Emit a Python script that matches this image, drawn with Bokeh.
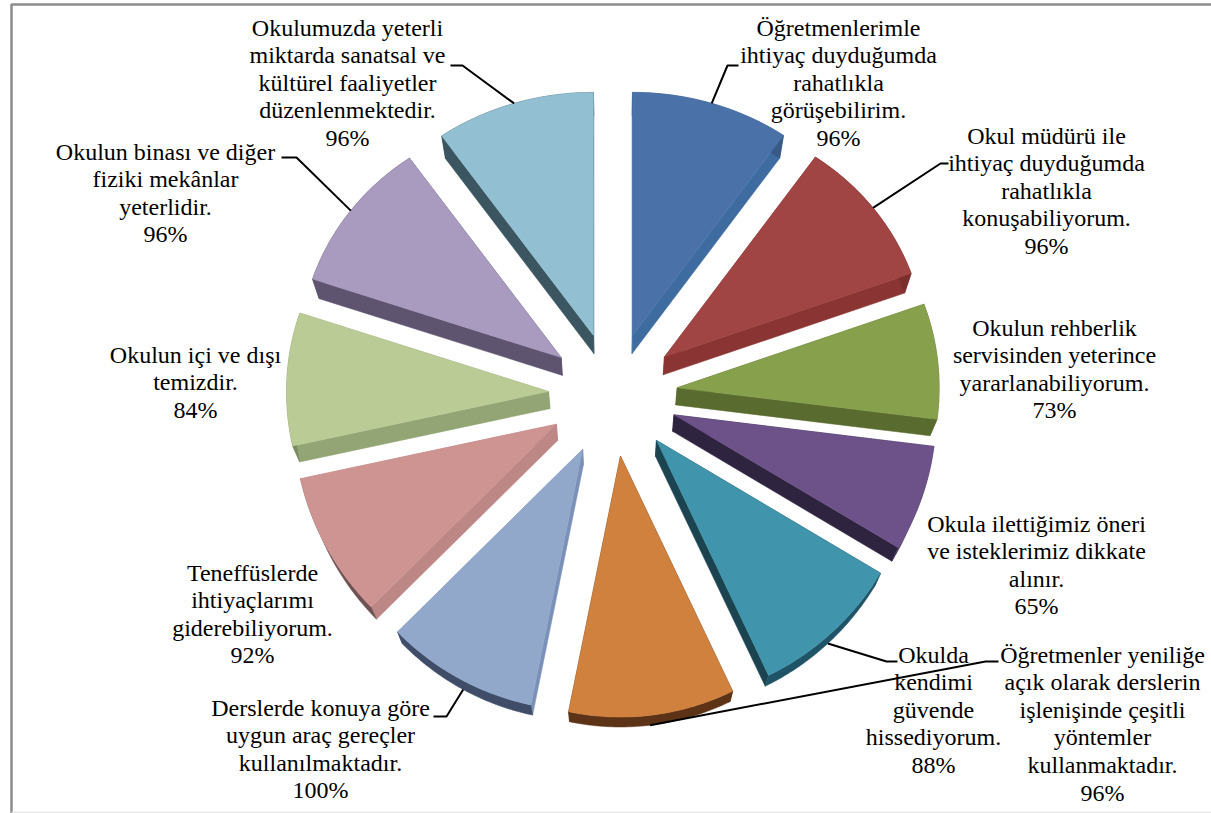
import numpy as np
from bokeh.plotting import figure
from bokeh.embed import file_html
from bokeh.resources import INLINE
from bokeh.core.properties import value

categories = [
    ["Öğretmenlerimle", "ihtiyaç duyduğumda", "rahatlıkla", "görüşebilirim."],
    ["Okul müdürü ile", "ihtiyaç duyduğumda", "rahatlıkla", "konuşabiliyorum."],
    ["Okulun rehberlik", "servisinden yeterince", "yararlanabiliyorum."],
    ["Okula ilettiğimiz öneri", "ve isteklerimiz dikkate", "alınır."],
    ["Okulda", "kendimi", "güvende", "hissediyorum."],
    ["Öğretmenler yeniliğe", "açık olarak derslerin", "işlenişinde çeşitli", "yöntemler", "kullanmaktadır."],
    ["Derslerde konuya göre", "uygun araç gereçler", "kullanılmaktadır."],
    ["Teneffüslerde", "ihtiyaçlarımı", "giderebiliyorum."],
    ["Okulun içi ve dışı", "temizdir."],
    ["Okulun binası ve diğer", "fiziki mekânlar", "yeterlidir."],
    ["Okulumuzda yeterli", "miktarda sanatsal ve", "kültürel faaliyetler", "düzenlenmektedir."],
]
values = [96, 96, 73, 65, 88, 96, 100, 92, 84, 96, 96]

top_colors = ["#4a72a8", "#a04543", "#86a04c", "#6d5289", "#4094ab", "#d0813e",
              "#92a8cb", "#cd9492", "#bacb96", "#a99bbf", "#92c0d2"]
side_colors = ["#3f6ca0", "#8a3533", "#5a6b2f", "#2f2440", "#1c4450", "#5c3317",
               "#7b90b8", "#bd8785", "#93a574", "#5f5470", "#3b5660"]
rim_colors = ["#3a5a86", "#7a2f2d", "#5a6b2f", "#43345a", "#1f5366", "#5c3317",
              "#3f4d68", "#6e5150", "#7a8a60", "#5f5470", "#3b5660"]

# layout (centre x, first line y) of each label, and its leader's elbow
label_x = [838, 1046, 1054, 1036, 933, 1102, 320, 252, 195, 165, 347]
label_y = [27, 135, 327, 523, 654, 654, 707, 572, 354, 151, 27]
elbows = [[(727, 65), (738, 65)], [(940, 163), (948, 163)], None, None,
          [(886, 661), (897, 661)], [(985, 661), (998, 661)],
          [(446, 716), (433, 716)], None, None, [(296, 157), (281, 157)], [(462, 65), (450, 65)]]
PITCH = 27.6

CX, CY, EX, EY, RX, RY, RYP, DEPTH, K = 612.5, 394, 64.5, 62, 262, 252, 9, 17, 0.978


def bottom(x, y):
    return CX + (x - CX) * K, CY + (y - CY) * K + DEPTH


def warp(t):
    t = np.asarray(t, dtype=float)
    width = np.where(t < np.radians(188), np.radians(40), np.radians(20))
    return (t + np.radians(3) * np.exp(-((t - np.radians(188)) / width) ** 2)
            - np.radians(1.5) * np.exp(-((t - np.radians(275)) / np.radians(35)) ** 2))


def rim(ax, ay, t):
    t2 = warp(t)
    return ax + RX * np.sin(t2), ay - (RY - RYP * np.cos(t2)) * np.cos(t2)


p = figure(width=1211, height=813, x_range=(0, 1211), y_range=(813, 0), output_backend="svg",
           toolbar_location=None, min_border=0, outline_line_color=None)
p.axis.visible = False
p.grid.visible = False

p.line([11, 11, 1211], [813, 4, 4], line_color="#8c8c8c", line_width=2.5)
p.line([11, 1211], [812, 812], line_color="#e4e4e4", line_width=1.5)

shares = np.array(values, dtype=float) / sum(values) * 2 * np.pi
ends = np.cumsum(shares)
starts = ends - shares

for i in range(len(values)):
    mid = (starts[i] + ends[i]) / 2
    wmid = warp(mid)
    ax = CX + EX * np.sin(wmid)
    ay = CY - EY * np.cos(wmid)
    th = np.linspace(starts[i], ends[i], 50)
    rx_, ry_ = rim(ax, ay, th)
    bax, bay = bottom(ax, ay)
    brx, bry = bottom(rx_, ry_)
    # radial walls, then the outer rim, then the top face
    for j in (0, -1):
        p.patch([ax, rx_[j], brx[j], bax], [ay, ry_[j], bry[j], bay],
                fill_color=side_colors[i], line_color=side_colors[i], line_width=0.5)
    p.patch(np.r_[rx_, brx[::-1]], np.r_[ry_, bry[::-1]],
            fill_color=rim_colors[i], line_color=rim_colors[i], line_width=0.5)
    p.patch(np.r_[ax, rx_], np.r_[ay, ry_], fill_color=top_colors[i], line_color=top_colors[i], line_width=0.5)

    if elbows[i]:
        rx0, ry0 = rim(ax, ay, mid)
        if np.pi / 2 < mid < 3 * np.pi / 2:
            rx0, ry0 = bottom(rx0, ry0)
        pts = [(rx0, ry0)] + elbows[i]
        p.line([q[0] for q in pts], [q[1] for q in pts], line_color="black", line_width=2)

for i, lines in enumerate(categories):
    rows = lines + [f"{values[i]}%"]
    p.text(x=[label_x[i]] * len(rows), y=[label_y[i] + PITCH * j for j in range(len(rows))], text=rows,
           text_align="center", text_baseline="middle", text_color="black",
           text_font=value("Liberation Serif"), text_font_size="24px")

open("out.html", "w").write(file_html(p, INLINE))
